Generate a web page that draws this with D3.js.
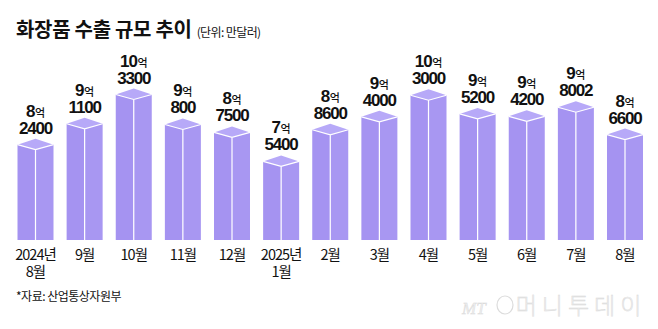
<!DOCTYPE html>
<html><head><meta charset="utf-8">
<script src="https://cdn.jsdelivr.net/npm/d3@7"></script>
<style>
html,body{margin:0;padding:0;background:#fff;}
svg{display:block;}
</style></head>
<body>
<script>
const categories = ["2024년|8월","9월","10월","11월","12월","2025년|1월","2월","3월","4월","5월","6월","7월","8월"];
const values = [82400, 91100, 103300, 90800, 87500, 75400, 88600, 94000, 103000, 95200, 94200, 98002, 86600]; // 만달러
const titleText = "화장품 수출 규모 추이";
const unitText = "(단위: 만달러)";
const sourceText = "*자료: 산업통상자원부";

const W = 658, H = 329;
const svg = d3.select("body").append("svg").attr("width", W).attr("height", H);

const x = d3.scalePoint().domain(categories).range([35.5, 625]);
const y = d3.scaleLinear().domain([42650, 103300]).range([240, 94.5]);
const bw = 36, back = 6, front = 5;
const data = categories.map((c, i) => ({c, v: values[i]}));

const kfont = "'Noto Sans CJK KR','Noto Sans',sans-serif";
const nfont = "'Liberation Sans',Arial,sans-serif";

// title
const t = svg.append("text").attr("x", 16).attr("y", 37).attr("font-family", kfont).attr("fill", "#111");
t.append("tspan").attr("font-size", 20).attr("font-weight", 700).attr("letter-spacing", -0.3).text(titleText);
t.append("tspan").attr("dx", 5).attr("font-size", 12).attr("letter-spacing", -0.6).text(unitText);

const g = svg.append("g");
const bars = g.selectAll("g.bar").data(data).join("g").attr("class", "bar");

bars.append("rect")
  .attr("x", d => x(d.c) - bw / 2).attr("y", d => y(d.v))
  .attr("width", bw / 2).attr("height", d => 240 - y(d.v))
  .attr("fill", "#a593f1");
bars.append("rect")
  .attr("x", d => x(d.c)).attr("y", d => y(d.v))
  .attr("width", bw / 2).attr("height", d => 240 - y(d.v))
  .attr("fill", "#a897f2");
// top face
bars.append("path")
  .attr("d", d => {
    const cx = x(d.c), T = y(d.v);
    return `M${cx - bw/2},${T} L${cx},${T - back} L${cx + bw/2},${T} L${cx},${T + front} Z`;
  })
  .attr("fill", "#b7a9f8");
// white edges
bars.append("path")
  .attr("d", d => {
    const cx = x(d.c), T = y(d.v);
    return `M${cx - bw/2},${T} L${cx},${T + front} L${cx + bw/2},${T} M${cx},${T + front} L${cx},240`;
  })
  .attr("fill", "none").attr("stroke", "#fff").attr("stroke-width", 1.2);

// value labels (two lines in one text)
const lab = bars.append("text")
  .attr("x", d => x(d.c)).attr("y", d => y(d.v) - 28)
  .attr("text-anchor", "middle").attr("fill", "#111");
const l1 = lab.append("tspan").attr("x", d => x(d.c));
l1.append("tspan").attr("font-family", nfont).attr("font-size", 17).attr("font-weight", 700).attr("letter-spacing", -1)
  .text(d => Math.floor(d.v / 10000));
l1.append("tspan").attr("font-family", kfont).attr("font-size", 11).attr("font-weight", 500).attr("dx", 0.5).text("억");
lab.append("tspan").attr("x", d => x(d.c)).attr("dy", 17)
  .attr("font-family", nfont).attr("font-size", 17).attr("font-weight", 700).attr("letter-spacing", -1.2)
  .text(d => String(d.v % 10000));

// category labels
const cl = g.selectAll("text.cat").data(categories).join("text").attr("class", "cat")
  .attr("x", d => x(d)).attr("y", 260)
  .attr("text-anchor", "middle").attr("font-family", kfont).attr("fill", "#111")
  .attr("font-size", 14.5).attr("letter-spacing", -1);
cl.each(function(d) {
  const parts = d.split("|");
  const sel = d3.select(this);
  parts.forEach((p, i) => {
    sel.append("tspan").attr("x", x(d)).attr("dy", i === 0 ? 0 : 16.5).text(p);
  });
});

// source
svg.append("text").attr("x", 16).attr("y", 301).attr("font-family", kfont)
  .attr("font-size", 12).attr("letter-spacing", -0.5).attr("fill", "#111").text(sourceText);

// watermark
const wm = svg.append("text").attr("x", 462).attr("y", 314).attr("font-family", kfont).attr("fill", "#f0f0f0")
  .attr("stroke", "#d6d6d6").attr("stroke-width", 0.4);
wm.append("tspan").attr("font-size", 17).attr("font-style", "italic").attr("font-family", "'Liberation Serif',serif").text("MT");
wm.append("tspan").attr("dx", 30).attr("font-size", 23).attr("font-weight", 300).attr("letter-spacing", 5).text("머니투데이");
svg.append("ellipse").attr("cx", 505).attr("cy", 305).attr("rx", 8).attr("ry", 9)
  .attr("fill", "none").attr("stroke", "#dcdcdc").attr("stroke-width", 1.2);
</script>
</body></html>
